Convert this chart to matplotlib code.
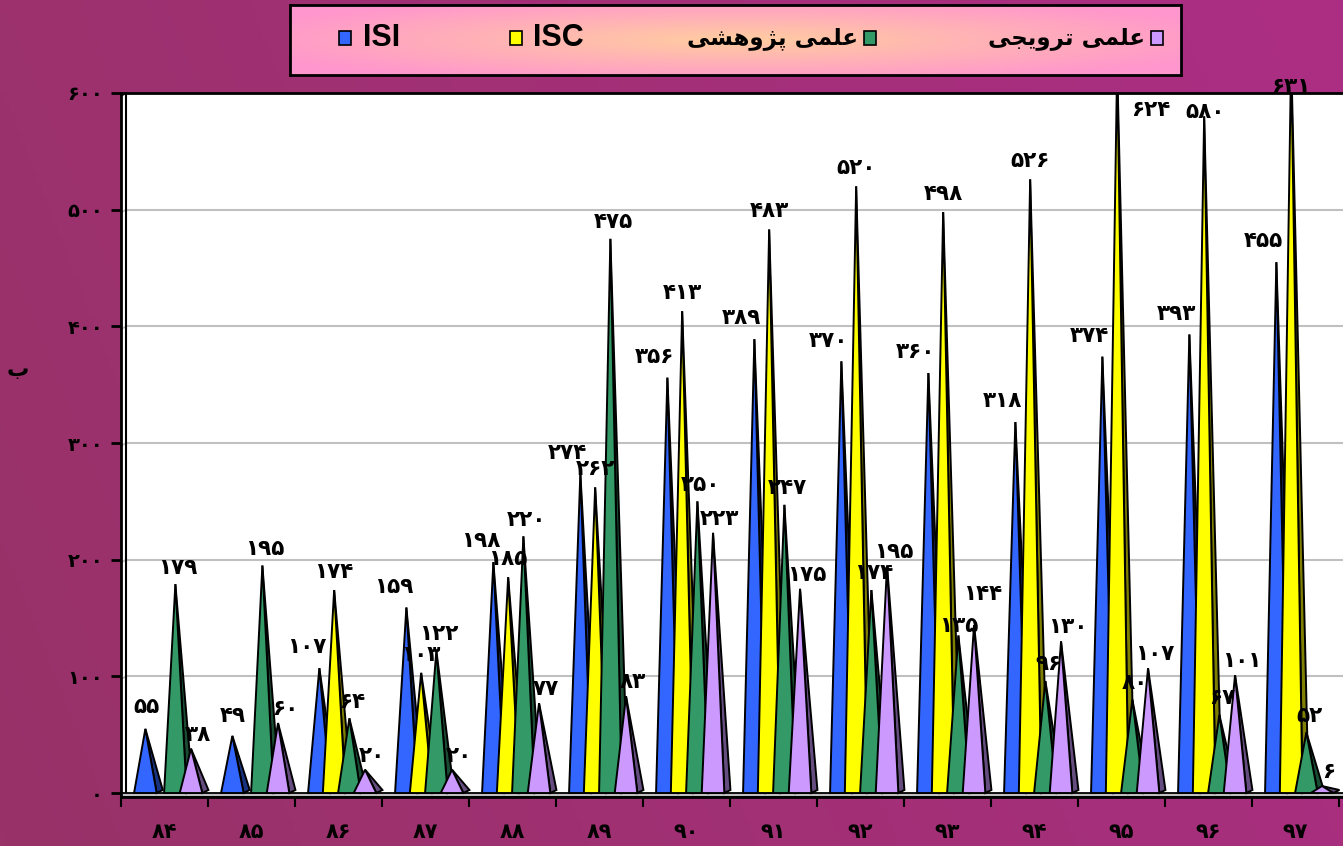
import numpy as np
import matplotlib.pyplot as plt
from matplotlib.patches import Polygon, Rectangle

# ---------------- data ----------------
years = ['84', '85', '86', '87', '88', '89', '90', '91', '92', '93', '94', '95', '96', '97']
series_names = ['ISI', 'ISC', 'علمی پژوهشی', 'علمی ترویجی']
isi = [55, 49, 107, 159, 198, 274, 356, 389, 370, 360, 318, 374, 393, 455]
isc = [0, 0, 174, 103, 185, 262, 413, 483, 520, 498, 526, 624, 580, 631]
research = [179, 195, 64, 122, 220, 475, 250, 247, 174, 135, 96, 80, 67, 52]
promo = [38, 60, 20, 20, 77, 83, 223, 175, 195, 144, 130, 107, 101, 6]
y_ticks = [0, 100, 200, 300, 400, 500, 600]
y_title = 'ب'

face_colors = ['#3366FF', '#FFFF00', '#339966', '#CC99FF']
side_colors = ['#1A3380', '#808000', '#1A4D33', '#664D80']

W, H = 1343, 846
FA = str.maketrans('0123456789', '۰۱۲۳۴۵۶۷۸۹')


def fa(n):
    return str(n).translate(FA)


# contextual forms (isolated, final, initial, medial) - matplotlib has no arabic shaping
FORMS = {
    'ع': (0xFEC9, 0xFECA, 0xFECB, 0xFECC),
    'ل': (0xFEDD, 0xFEDE, 0xFEDF, 0xFEE0),
    'م': (0xFEE1, 0xFEE2, 0xFEE3, 0xFEE4),
    'ی': (0xFBFC, 0xFBFD, 0xFBFE, 0xFBFF),
    'پ': (0xFB56, 0xFB57, 0xFB58, 0xFB59),
    'ژ': (0xFB8A, 0xFB8B, None, None),
    'و': (0xFEED, 0xFEEE, None, None),
    'ه': (0xFEE9, 0xFEEA, 0xFEEB, 0xFEEC),
    'ش': (0xFEB5, 0xFEB6, 0xFEB7, 0xFEB8),
    'ت': (0xFE95, 0xFE96, 0xFE97, 0xFE98),
    'ر': (0xFEAD, 0xFEAE, None, None),
    'ج': (0xFE9D, 0xFE9E, 0xFE9F, 0xFEA0),
    'ب': (0xFE8F, 0xFE90, 0xFE91, 0xFE92),
}


def shape(s):
    out = []
    for i, ch in enumerate(s):
        if ch not in FORMS:
            out.append(ch)
            continue
        iso, fin, ini, med = FORMS[ch]
        prev = s[i - 1] if i > 0 else ''
        nxt = s[i + 1] if i + 1 < len(s) else ''
        jp = prev in FORMS and FORMS[prev][2] is not None
        jn = ini is not None and nxt in FORMS
        if jp and jn:
            c = med
        elif jp:
            c = fin
        elif jn:
            c = ini
        else:
            c = iso
        out.append(chr(c))
    return ''.join(out[::-1])


plt.rcParams['font.family'] = ['DejaVu Sans']

fig = plt.figure(figsize=(W / 100, H / 100), dpi=100)

# purple background gradient
bg = fig.add_axes([0, 0, 1, 1], zorder=-10)
gx = np.linspace(0, 1, 256)
gy = np.linspace(0, 1, 64)[:, None]
c0 = np.array([152, 50, 104]) / 255
c1 = np.array([172, 46, 132]) / 255
t = (gx[None, :] * 0.8 + (1 - gy) * 0.2)[..., None]
bg.imshow(c0 * (1 - t) + c1 * t, aspect='auto', extent=[0, 1, 0, 1])
bg.axis('off')

# ---------------- main plot ----------------
ax = fig.add_axes([121 / W, (H - 797) / H, (W - 121) / W, 704 / H])
ax.set_facecolor('white')
ax.set_xlim(0, (W - 121) / 87)
ax.set_ylim(-3.4, 600)

# gridlines starting at back wall
wall = 5 / 87
for yv in y_ticks[1:-1]:
    ax.plot([wall, 20], [yv, yv], color='#C0C0C0', lw=1.5, zorder=1)
    ax.plot([0, wall], [yv - 2.6, yv], color='#C0C0C0', lw=1.2, zorder=1)
ax.plot([wall, wall], [0, 600], color='black', lw=1.5, zorder=2)
ax.plot([0, wall], [597.4, 600], color='black', lw=1.2, zorder=2, clip_on=False)

# floor
ax.add_patch(Rectangle((0, -3.4), 20, 3.4, fc='#C0C0C0', ec='black', lw=1.3, zorder=2))

offsets = [0.28, 0.45, 0.625, 0.805]
hw, dx, dy = 0.13, 0.07, 2.6
series = [isi, isc, research, promo]
label_off = [(-9, 15), (0, 13), (2, 12), (5, 10)]
label_fix = {(0, 0): (1, 16), (0, 1): (0, 14), (1, 11): (24, -12), (1, 12): (1, 3),
             (1, 13): (0, 4), (2, 9): (0, 7), (3, 9): (6, 22)}

for s, vals in enumerate(series):
    for i, v in enumerate(vals):
        if v <= 0:
            continue
        cx = i + offsets[s]
        z = 3 + s * 0.1 + i * 0.001
        ax.add_patch(Polygon([(cx + hw, 0), (cx + hw + dx, dy), (cx, v)],
                             closed=True, fc=side_colors[s], ec='black', lw=1.4, zorder=z))
        ax.add_patch(Polygon([(cx - hw, 0), (cx + hw, 0), (cx, v)],
                             closed=True, fc=face_colors[s], ec='black', lw=1.4, zorder=z))
        ox, oy = label_fix.get((s, i), label_off[s])
        ax.annotate(fa(v), (cx, min(v, 600)), xytext=(ox, oy), textcoords='offset points',
                    ha='center', va='center', fontsize=15.5, fontweight='bold',
                    color='black', zorder=10, annotation_clip=False)

for side in ['left', 'bottom', 'top']:
    ax.spines[side].set_linewidth(2)
    ax.spines[side].set_color('black')
ax.spines['right'].set_visible(False)

ax.set_yticks(y_ticks)
ax.set_yticklabels([fa(v) for v in y_ticks], fontsize=14, fontweight='bold')
ax.tick_params(axis='y', length=7, width=2, pad=6)

ax.set_xticks(np.arange(len(years) + 1))
ax.set_xticklabels([])
ax.set_xticks(np.arange(len(years)) + 0.5, minor=True)
ax.set_xticklabels([fa(y) for y in years], minor=True, fontsize=15, fontweight='bold')
ax.tick_params(axis='x', which='major', length=7, width=1.5)
ax.tick_params(axis='x', which='minor', length=0, pad=18)

fig.text(18 / W, 1 - 370 / H, shape(y_title), fontsize=16, fontweight='bold',
         ha='center', va='center')

# ---------------- legend box ----------------
lg = fig.add_axes([290 / W, (H - 75) / H, 891 / W, 70 / H], zorder=5)
lx = np.linspace(-1, 1, 300)[None, :]
ly = np.linspace(-1, 1, 60)[:, None]
r = np.clip(np.sqrt((lx * 1.0) ** 2 + (ly * 0.9) ** 2) / 1.15, 0, 1)[..., None]
pink = np.array([255, 150, 205]) / 255
peach = np.array([255, 205, 160]) / 255
lg.imshow(peach * (1 - r) + pink * r, aspect='auto', extent=[0, 1, 0, 1])
lg.set_xlim(0, 1)
lg.set_ylim(0, 1)
lg.set_xticks([])
lg.set_yticks([])
for sp in lg.spines.values():
    sp.set_linewidth(2)


def lpx(px, py):
    return (px - 290) / 891, 1 - (py - 5) / 70


sq_w, sq_h = 12 / 891, 14 / 70
sq_x = [345, 516, 870, 1157]
txt_x = [363, 533, 858, 1145]
for k, name in enumerate(series_names):
    x0, y0 = lpx(sq_x[k], 38)
    lg.add_patch(Rectangle((x0 - sq_w / 2, y0 - sq_h / 2), sq_w, sq_h,
                           fc=face_colors[k], ec='black', lw=1.2))
    tx, ty = lpx(txt_x[k], 38)
    if k < 2:
        lg.text(tx, ty, name, family='Liberation Sans', fontsize=22, fontweight='bold',
                ha='left', va='center')
    else:
        lg.text(tx, ty, shape(name), fontsize=16.5, fontweight='bold', ha='right', va='center')

fig.savefig('out.png', dpi=100)
